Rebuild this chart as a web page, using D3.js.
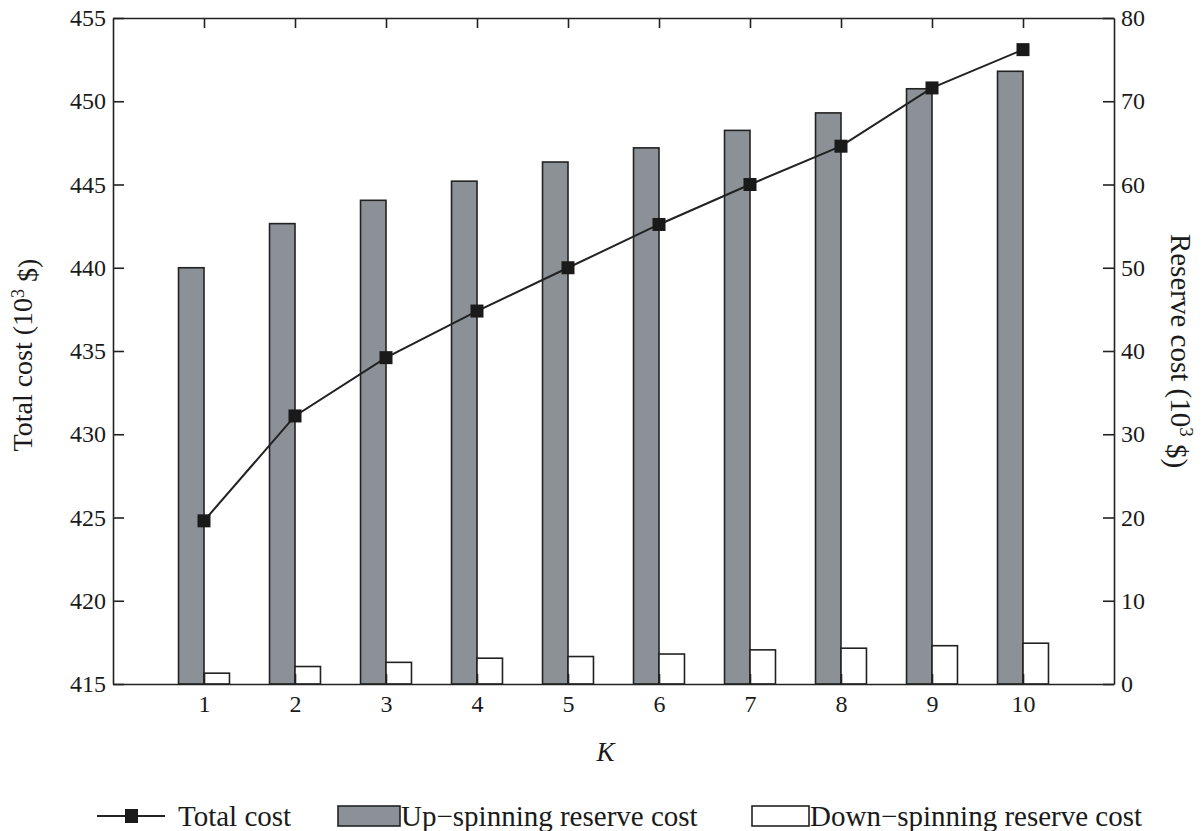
<!DOCTYPE html>
<html>
<head>
<meta charset="utf-8">
<script src="https://cdn.jsdelivr.net/npm/d3@7"></script>
<style>
  body { margin: 0; background: #fff; }
  text { font-family: "Liberation Serif", "DejaVu Serif", serif; fill: #1a1a1a; }
  .axis path, .axis line { stroke: #222; stroke-width: 1.6; }
</style>
</head>
<body>
<script>
// values
var K = [1, 2, 3, 4, 5, 6, 7, 8, 9, 10];
var totalCost = [424.8, 431.1, 434.6, 437.4, 440.0, 442.6, 445.0, 447.3, 450.8, 453.1];
var upReserve = [50.0, 55.3, 58.1, 60.4, 62.7, 64.4, 66.5, 68.6, 71.5, 73.6];
var downReserve = [1.3, 2.1, 2.6, 3.1, 3.3, 3.6, 4.1, 4.3, 4.6, 4.9];
var leftTicks = [415, 420, 425, 430, 435, 440, 445, 450, 455];
var rightTicks = [0, 10, 20, 30, 40, 50, 60, 70, 80];

var margin = {top: 18, right: 88, bottom: 147, left: 113};
var width = 1202 - margin.left - margin.right;
var height = 831 - margin.top - margin.bottom;

var x = d3.scaleLinear().domain([0, 11]).range([0, width]);
var yLeft = d3.scaleLinear().domain([415, 455]).range([height, 0]);
var yRight = d3.scaleLinear().domain([0, 80]).range([height, 0]);

var barW = (x(1) - x(0)) * 0.28;

var svg = d3.select('body')
.append('svg')
.attr('width', 1202)
.attr('height', 831);

var main = svg.append('g')
.attr('transform', 'translate(' + margin.left + ',' + margin.top + ')');

// bars
main.selectAll('.up')
.data(K)
.enter().append('rect')
.attr('class', 'up')
.attr('x', function(d) { return x(d) - barW; })
.attr('y', function(d, i) { return yRight(upReserve[i]); })
.attr('width', barW)
.attr('height', function(d, i) { return height - yRight(upReserve[i]); })
.attr('fill', '#8b9197')
.attr('stroke', '#222')
.attr('stroke-width', 1.6);

main.selectAll('.down')
.data(K)
.enter().append('rect')
.attr('class', 'down')
.attr('x', function(d) { return x(d); })
.attr('y', function(d, i) { return yRight(downReserve[i]); })
.attr('width', barW)
.attr('height', function(d, i) { return height - yRight(downReserve[i]); })
.attr('fill', '#fff')
.attr('stroke', '#222')
.attr('stroke-width', 1.6);

// axes (ticks point inward)
main.append('g')
.attr('class', 'axis')
.attr('transform', 'translate(0,' + height + ')')
.call(d3.axisBottom(x).tickValues(K).tickSize(-10).tickSizeOuter(0).tickPadding(11))
.selectAll('text').style('font-size', '24px');

main.append('g')
.attr('class', 'axis')
.call(d3.axisTop(x).tickValues(K).tickSize(-10).tickSizeOuter(0).tickFormat(''));

main.append('g')
.attr('class', 'axis')
.call(d3.axisLeft(yLeft).tickValues(leftTicks).tickSize(-11).tickSizeOuter(0).tickPadding(7))
.selectAll('text').style('font-size', '24px');

main.append('g')
.attr('class', 'axis')
.attr('transform', 'translate(' + width + ',0)')
.call(d3.axisRight(yRight).tickValues(rightTicks).tickSize(-11).tickSizeOuter(0).tickPadding(7))
.selectAll('text').style('font-size', '24px');

// total cost line
var line = d3.line()
.x(function(d, i) { return x(K[i]); })
.y(function(d) { return yLeft(d); });

main.append('path')
.datum(totalCost)
.attr('d', line)
.attr('fill', 'none')
.attr('stroke', '#222')
.attr('stroke-width', 2);

main.selectAll('.pt')
.data(totalCost)
.enter().append('rect')
.attr('class', 'pt')
.attr('x', function(d, i) { return x(K[i]) - 6.5; })
.attr('y', function(d) { return yLeft(d) - 6.5; })
.attr('width', 13)
.attr('height', 13)
.attr('fill', '#1a1a1a');

// axis titles
var lt = main.append('text')
.attr('transform', 'translate(-81,' + (height / 2 + 4) + ') rotate(-90)')
.style('text-anchor', 'middle')
.style('font-size', '28px');
lt.append('tspan').text('Total cost (10');
lt.append('tspan').attr('dy', '-0.45em').style('font-size', '18px').text('3');
lt.append('tspan').attr('dy', '0.45em').text(' $)');

var rt = main.append('text')
.attr('transform', 'translate(' + (width + 57) + ',' + (height / 2) + ') rotate(90)')
.style('text-anchor', 'middle')
.style('font-size', '29px');
rt.append('tspan').text('Reserve cost (10');
rt.append('tspan').attr('dy', '-0.45em').style('font-size', '19px').text('3');
rt.append('tspan').attr('dy', '0.45em').text(' $)');

main.append('text')
.attr('x', width / 2 - 8)
.attr('y', height + 77)
.style('text-anchor', 'middle')
.style('font-size', '27px')
.style('font-style', 'italic')
.text('K');

// legend
var leg = svg.append('g').attr('transform', 'translate(0,816)');

leg.append('line')
.attr('x1', 97).attr('x2', 165).attr('y1', 0).attr('y2', 0)
.attr('stroke', '#222').attr('stroke-width', 2);
leg.append('rect')
.attr('x', 125).attr('y', -7).attr('width', 13).attr('height', 14)
.attr('fill', '#1a1a1a');
leg.append('text').attr('x', 178).attr('y', 10).style('font-size', '29px').text('Total cost');

leg.append('rect')
.attr('x', 338).attr('y', -10).attr('width', 62).attr('height', 20)
.attr('fill', '#8b9197').attr('stroke', '#222').attr('stroke-width', 1.6);
leg.append('text').attr('x', 401).attr('y', 10).style('font-size', '29px').text('Up\u2212spinning reserve cost');

leg.append('rect')
.attr('x', 752).attr('y', -10).attr('width', 57).attr('height', 20)
.attr('fill', '#fff').attr('stroke', '#222').attr('stroke-width', 1.6);
leg.append('text').attr('x', 810).attr('y', 10).style('font-size', '29px').text('Down\u2212spinning reserve cost');
</script>
</body>
</html>
